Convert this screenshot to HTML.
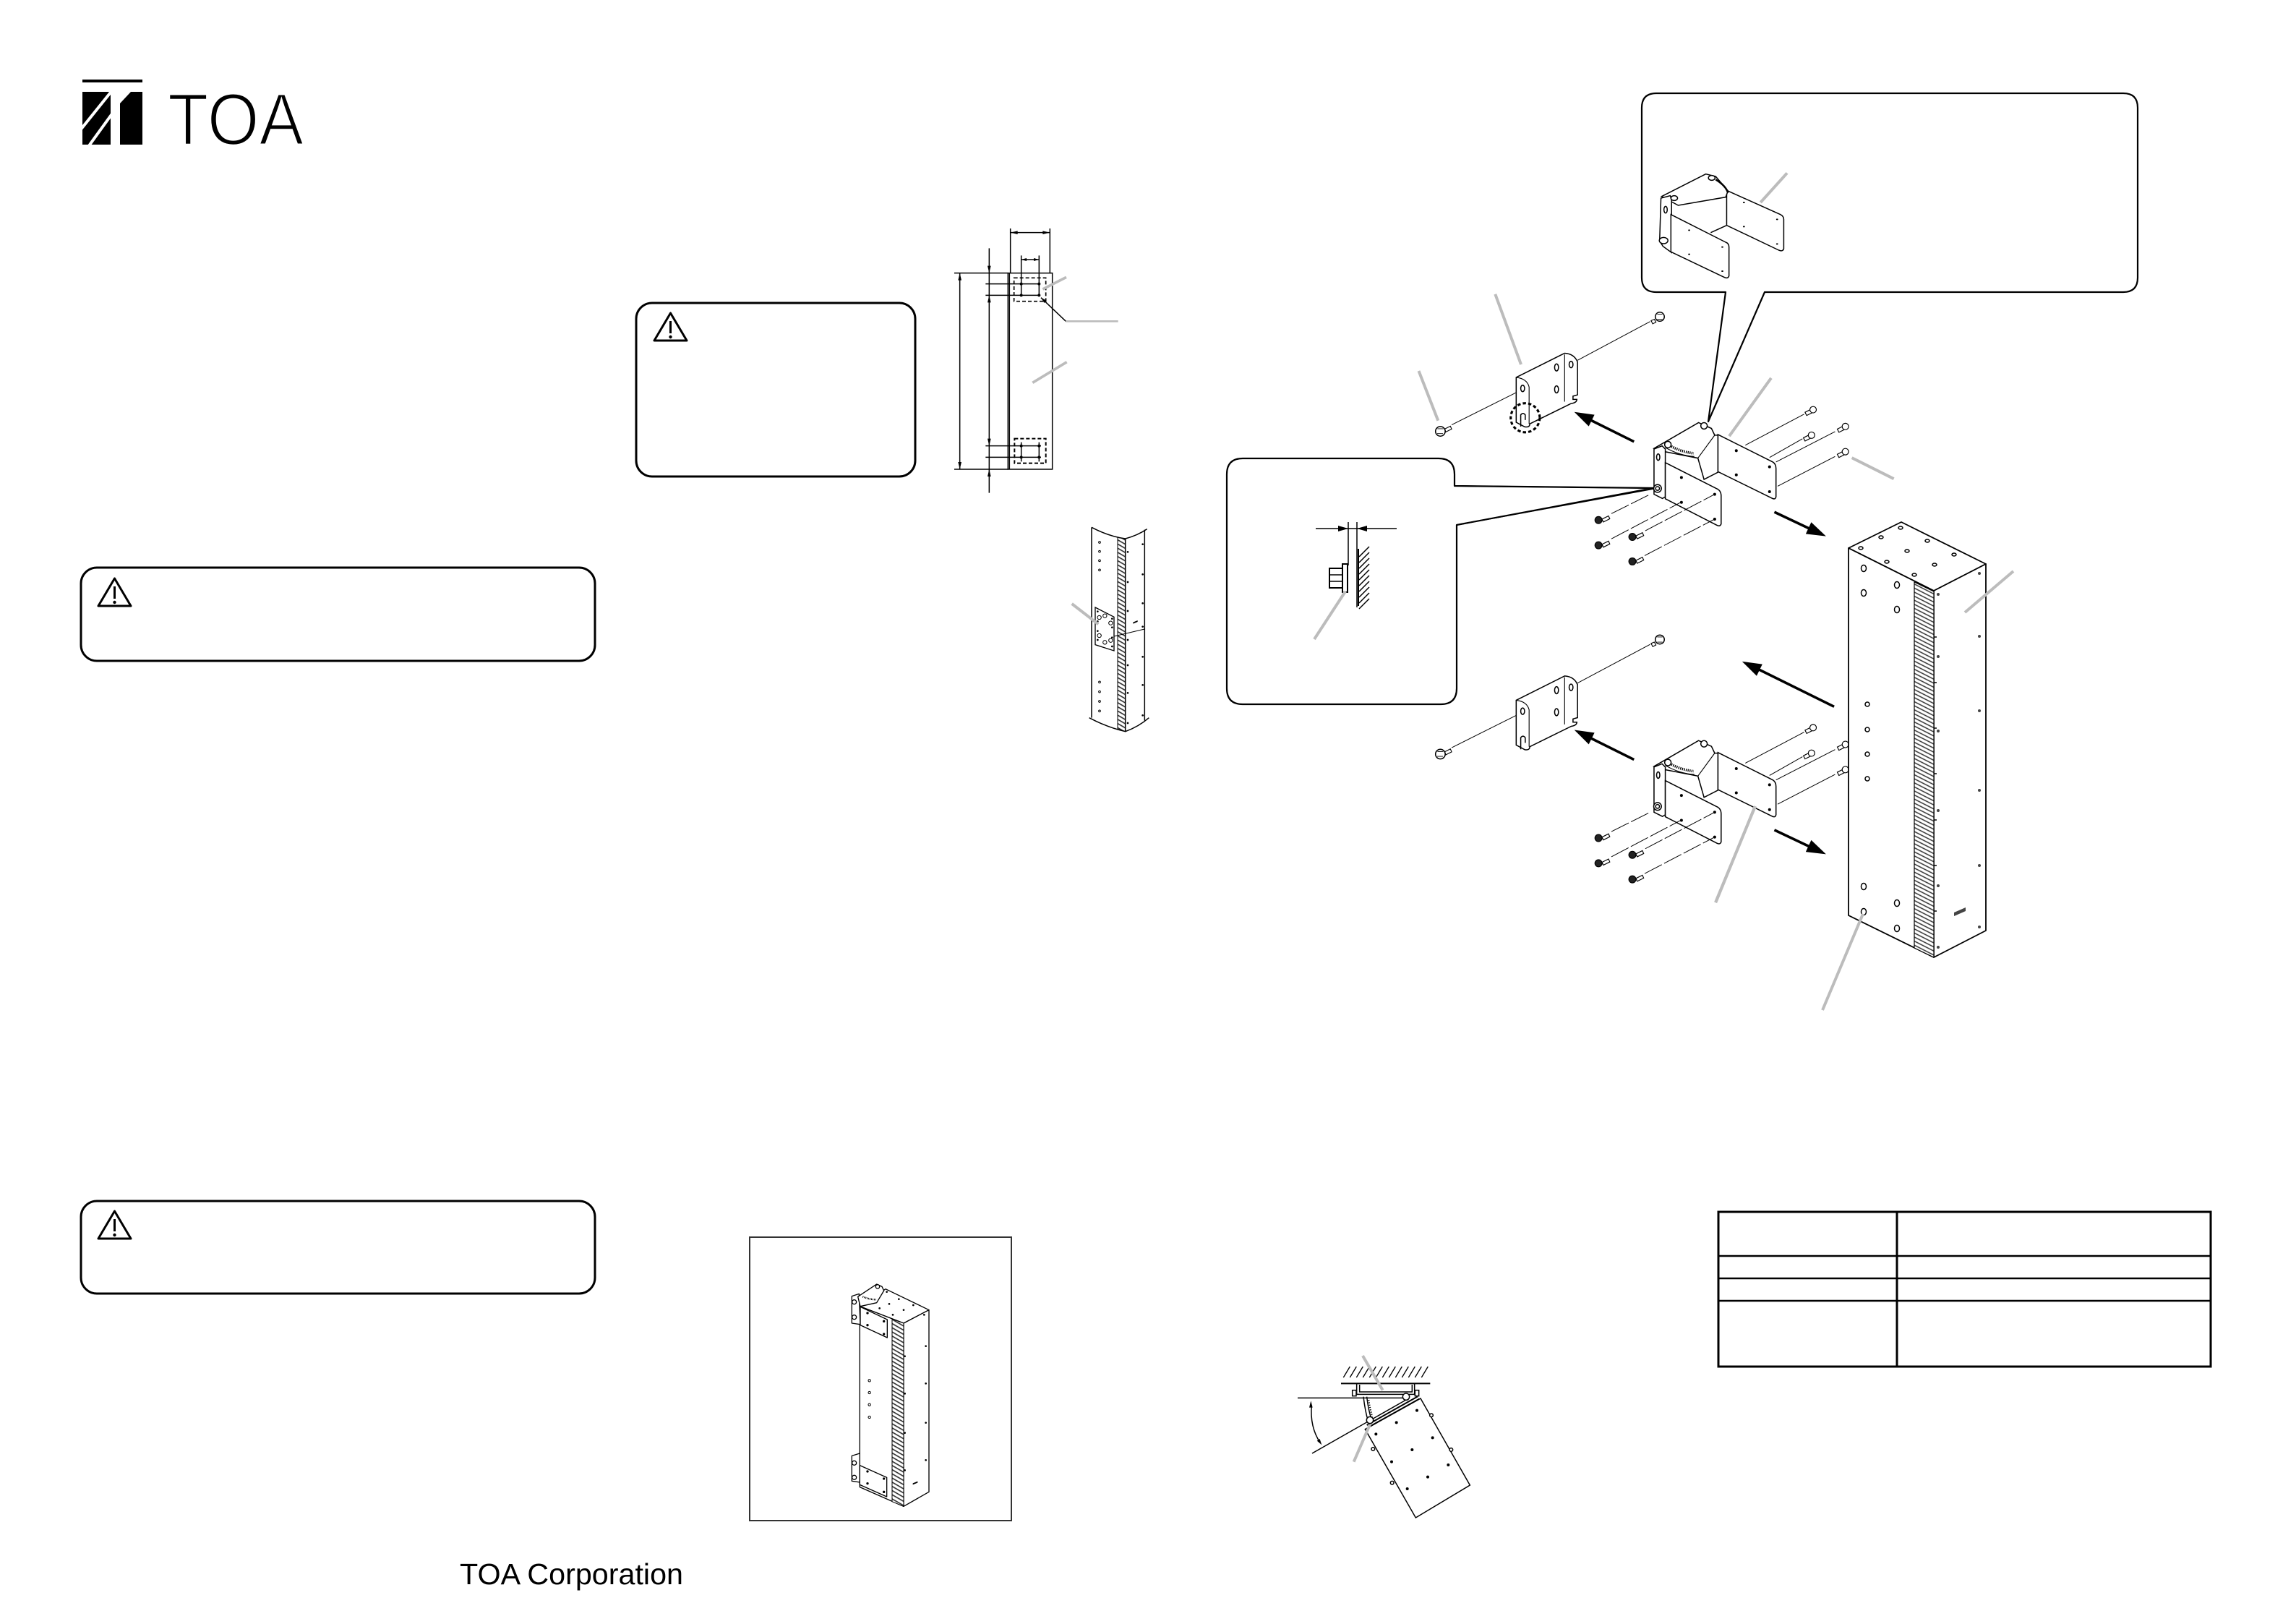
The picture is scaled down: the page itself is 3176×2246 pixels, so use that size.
<!DOCTYPE html>
<html><head><meta charset="utf-8">
<style>
html,body{margin:0;padding:0;background:#fff;}
svg{display:block;}
.ns *{vector-effect:non-scaling-stroke;}
</style></head>
<body>
<svg width="3176" height="2246" viewBox="0 0 3176 2246" xmlns="http://www.w3.org/2000/svg">
<defs>
<pattern id="hs" width="5" height="5" patternUnits="userSpaceOnUse" patternTransform="rotate(27)">
<rect width="5" height="5" fill="#fff"/><line x1="0" y1="2.5" x2="5" y2="2.5" stroke="#333" stroke-width="1.5"/></pattern>
<pattern id="hz" width="15" height="15" patternUnits="userSpaceOnUse" patternTransform="rotate(30)">
<rect width="15" height="15" fill="#fff"/><line x1="0" y1="7" x2="15" y2="7" stroke="#333" stroke-width="5"/></pattern>
</defs>
<rect width="3176" height="2246" fill="#fff"/>

<!-- LOGO -->
<rect x="114" y="110" width="83" height="4" fill="#000"/>
<rect x="114" y="127" width="39" height="73" fill="#000"/>
<line x1="156" y1="124" x2="111" y2="180" stroke="#fff" stroke-width="4"/>
<line x1="156" y1="156" x2="122" y2="203" stroke="#fff" stroke-width="4"/>
<polygon points="166,143 181,127 197,127 197,200 166,200" fill="#000"/>
<text x="232" y="200" font-family="Liberation Sans, sans-serif" font-size="101" textLength="188" lengthAdjust="spacingAndGlyphs" fill="#000" stroke="#fff" stroke-width="2.5">TOA</text>

<!-- Warning boxes -->
<rect x="112" y="785" width="711" height="129" rx="22" fill="none" stroke="#000" stroke-width="3"/>
<g stroke="#000" stroke-width="3" fill="none"><polygon points="158.5,800 136,838 181,838" stroke-linejoin="round"/><line x1="158.5" y1="811" x2="158.5" y2="828"/></g><circle cx="158.5" cy="833" r="2.2"/>

<rect x="880" y="419" width="386" height="240" rx="22" fill="none" stroke="#000" stroke-width="3"/>
<g stroke="#000" stroke-width="3" fill="none"><polygon points="927.5,433 905,471 950,471" stroke-linejoin="round"/><line x1="927.5" y1="444" x2="927.5" y2="461"/></g><circle cx="927.5" cy="466" r="2.2"/>

<rect x="112" y="1661" width="711" height="128" rx="22" fill="none" stroke="#000" stroke-width="3"/>
<g stroke="#000" stroke-width="3" fill="none"><polygon points="158.5,1675 136,1713 181,1713" stroke-linejoin="round"/><line x1="158.5" y1="1686" x2="158.5" y2="1703"/></g><circle cx="158.5" cy="1708" r="2.2"/>

<text x="636" y="2191" font-family="Liberation Sans, sans-serif" font-size="41" textLength="309" lengthAdjust="spacingAndGlyphs" fill="#000">TOA Corporation</text>

<!-- TABLE -->
<g stroke="#000" fill="none">
<rect x="2377" y="1676" width="681" height="214" stroke-width="3"/>
<line x1="2624" y1="1676" x2="2624" y2="1890" stroke-width="3"/>
<line x1="2377" y1="1737" x2="3058" y2="1737" stroke-width="2.5"/>
<line x1="2377" y1="1768" x2="3058" y2="1768" stroke-width="2.5"/>
<line x1="2377" y1="1799" x2="3058" y2="1799" stroke-width="2.5"/>
</g>

<!-- DIMENSION DRAWING -->
<g transform="translate(1280,290) scale(0.33333)" stroke="#000" fill="none" stroke-width="4.5">
<rect x="343" y="263" width="184" height="814" fill="#fff"/>
<line x1="349" y1="263" x2="349" y2="1077"/>
<path d="M353,78 V263 M517,78 V263 M353,95 H517 M398,190 V360 M472,190 V360 M398,207 H472 M120,263 H343 M120,1077 H343 M143,263 V1077 M265,160 V1175 M250,308 H472 M250,355 H472 M250,980 H480 M250,1027 H480 M398,965 V1045 M472,965 V1045"/>
<rect x="368" y="283" width="132" height="97" stroke-dasharray="15 9" stroke-width="5"/>
<rect x="370" y="950" width="130" height="102" stroke-dasharray="15 9" stroke-width="6"/>
<g fill="#000" stroke="none">
<circle cx="398" cy="308" r="6"/><circle cx="472" cy="308" r="6"/><circle cx="398" cy="355" r="6"/><circle cx="472" cy="355" r="6"/>
<circle cx="398" cy="980" r="6"/><circle cx="472" cy="980" r="6"/><circle cx="398" cy="1027" r="6"/><circle cx="472" cy="1027" r="6"/>
<polygon points="353,95 383,88 383,102"/><polygon points="517,95 487,88 487,102"/>
<polygon points="398,207 420,201 420,213"/><polygon points="472,207 450,201 450,213"/>
<polygon points="143,263 136,293 150,293"/><polygon points="143,1077 136,1047 150,1047"/>
<polygon points="265,263 258,233 272,233"/><polygon points="265,355 258,385 272,385"/>
<polygon points="265,980 258,950 272,950"/><polygon points="265,1077 258,1107 272,1107"/>
<polygon points="480,365 503,377 493,387"/>
</g>
<line x1="480" y1="365" x2="583" y2="463"/>
<g stroke="#bcbcbc" stroke-width="11"><line x1="583" y1="463" x2="800" y2="463" stroke-width="8"/><line x1="487" y1="330" x2="585" y2="280"/><line x1="445" y1="718" x2="587" y2="632"/></g>
</g>

<!-- COLUMN SPEAKER -->
<g transform="translate(1460,700) scale(0.33333)" stroke="#000" fill="none" stroke-width="4.5">
<polygon points="258,130 290,135 290,935 258,925" fill="url(#hz)" stroke-width="3"/>
<path d="M150,88 Q220,125 290,135 Q340,122 380,95"/>
<path d="M150,88 V878 M370,98 V890 M290,135 V935"/>
<path d="M140,878 Q215,918 290,935 Q345,915 388,878"/>
<g stroke-width="3"><circle cx="183" cy="150" r="4"/><circle cx="183" cy="188" r="4"/><circle cx="183" cy="226" r="4"/><circle cx="183" cy="265" r="4"/><circle cx="183" cy="730" r="4"/><circle cx="183" cy="770" r="4"/><circle cx="183" cy="810" r="4"/><circle cx="183" cy="850" r="4"/></g>
<g fill="#000" stroke="none"><circle cx="300" cy="190" r="4"/><circle cx="300" cy="315" r="4"/><circle cx="300" cy="435" r="4"/><circle cx="300" cy="555" r="4"/><circle cx="300" cy="660" r="4"/><circle cx="300" cy="775" r="4"/><circle cx="300" cy="900" r="4"/><circle cx="362" cy="158" r="4"/><circle cx="362" cy="283" r="4"/><circle cx="362" cy="403" r="4"/><circle cx="362" cy="500" r="4"/><circle cx="362" cy="625" r="4"/><circle cx="362" cy="742" r="4"/><circle cx="362" cy="868" r="4"/></g>
<polygon points="165,420 243,460 243,600 165,575" fill="#fff" stroke-width="4"/>
<g stroke-width="3"><circle cx="182" cy="462" r="8"/><circle cx="205" cy="455" r="8"/><circle cx="229" cy="485" r="8"/><circle cx="182" cy="537" r="8"/><circle cx="205" cy="565" r="8"/><circle cx="229" cy="557" r="8"/></g>
<g fill="#000" stroke="none"><circle cx="175" cy="437" r="4"/><circle cx="175" cy="478" r="4"/><circle cx="235" cy="467" r="4"/><circle cx="235" cy="503" r="4"/><circle cx="175" cy="518" r="4"/><circle cx="175" cy="555" r="4"/><circle cx="235" cy="545" r="4"/><circle cx="235" cy="582" r="4"/>
<polygon points="322,488 341,480 341,474 322,482"/></g>
<line x1="243" y1="540" x2="370" y2="510" stroke-width="3"/>
<line x1="68" y1="405" x2="178" y2="490" stroke="#bcbcbc" stroke-width="12"/>
</g>

<!-- TOP RIGHT CALLOUT -->
<path d="M2387,404 L2291,404 Q2271,404 2271,384 L2271,149 Q2271,129 2291,129 L2937,129 Q2957,129 2957,149 L2957,384 Q2957,404 2937,404 L2441,404 L2363,583 Z" fill="#fff" stroke="#000" stroke-width="2.2" stroke-linejoin="round"/>
<!-- LEFT CALLOUT -->
<path d="M2015,726 L2015,952 Q2015,974 1993,974 L1719,974 Q1697,974 1697,952 L1697,656 Q1697,634 1719,634 L1990,634 Q2012,634 2012,656 L2012,672 L2287,675 Z" fill="#fff" stroke="#000" stroke-width="2.2" stroke-linejoin="round"/>
<!-- left callout detail -->
<g stroke="#000" fill="none" stroke-width="1.5">
<line x1="1820" y1="731" x2="1932" y2="731"/>
<line x1="1865" y1="722" x2="1865" y2="782"/>
<line x1="1877" y1="722" x2="1877" y2="840"/>
<line x1="1879" y1="759" x2="1879" y2="838" stroke-width="2"/>
<path d="M1880,770 L1894,756 M1880,778 L1894,764 M1880,786 L1894,772 M1880,794 L1894,780 M1880,802 L1894,788 M1880,810 L1894,796 M1880,818 L1894,804 M1880,826 L1894,812 M1880,834 L1894,820 M1880,842 L1894,828"/>
<rect x="1839" y="786" width="18" height="27" fill="#fff" stroke-width="2"/>
<line x1="1839" y1="795" x2="1857" y2="795"/><line x1="1839" y1="804" x2="1857" y2="804"/>
<rect x="1857" y="780" width="7" height="39" fill="#fff" stroke-width="2"/>
</g>
<g fill="#000"><polygon points="1865,731 1851,727 1851,735"/><polygon points="1877,731 1891,727 1891,735"/></g>
<line x1="1861" y1="818" x2="1818" y2="884" stroke="#bcbcbc" stroke-width="4"/>

<!-- callout inner bracket -->
<g transform="translate(2270,120) scale(0.45914,0.33333)" class="ns" stroke="#000" fill="#fff" stroke-width="1.5">
<path d="M258,430 L420,530 Q430,537 430,550 L430,672 Q427,685 415,678 L258,575 Z"/>
<path d="M62,455 L195,362 L225,372 L262,432 L255,458 L112,492 Z"/>
<path d="M60,462 L88,452 L92,470 L92,688 L66,662 L56,640 Z"/>
<path d="M90,530 L255,645 Q265,650 265,665 L265,785 Q262,798 250,790 L90,685 Z"/>
<path d="M210,605 L258,575" fill="none"/>
<path d="M225,385 Q255,410 262,440" fill="none" stroke-width="2.5"/>
<circle cx="100" cy="462" r="10"/><circle cx="213" cy="378" r="10"/><circle cx="68" cy="638" r="13"/>
<ellipse cx="74" cy="510" rx="5" ry="14"/>
<g fill="#000" stroke="none"><circle cx="145" cy="595" r="3"/><circle cx="145" cy="695" r="3"/><circle cx="245" cy="665" r="3"/><circle cx="245" cy="765" r="3"/><circle cx="310" cy="480" r="3"/><circle cx="310" cy="580" r="3"/><circle cx="410" cy="550" r="3"/><circle cx="410" cy="652" r="3"/></g>
<line x1="360" y1="480" x2="440" y2="358" stroke="#bcbcbc" stroke-width="4"/>
</g>

<!-- MAIN EXPLODED VIEW (zoom coords) -->
<g transform="translate(1950,380) scale(0.44643)" stroke="#000" fill="none" stroke-width="3.4">
<g id="sp">
<line x1="130" y1="465" x2="350" y2="355" stroke-width="2.2"/>
<line x1="520" y1="265" x2="745" y2="145" stroke-width="2.2"/>
<path d="M330,318 L480,243 Q510,245 520,270 L520,372 L506,376 L506,386 L518,386 Q518,396 500,399 L372,462 Q372,474 356,471 L330,457 Z" fill="#fff"/>
<path d="M480,247 L480,393 M330,318 Q364,322 370,348 L370,462" stroke-width="2.5"/>
<ellipse cx="455" cy="287" rx="6" ry="11"/><ellipse cx="455" cy="355" rx="6" ry="11"/><ellipse cx="500" cy="278" rx="6" ry="10"/><ellipse cx="350" cy="352" rx="6" ry="10"/>
<path d="M344,470 L344,434 Q351,425 358,434 L358,450"/>
<path d="M108,478 L126,469 L130,478 L112,487 Z" fill="#fff" stroke-width="2.5"/>
<circle cx="95" cy="485" r="15" fill="#fff"/><path d="M86,477 L104,477 M85,492 L103,492" stroke-width="2"/>
<path d="M758,138 L748,142 L753,152 L763,147 Z" fill="#fff" stroke-width="2.5"/>
<circle cx="775" cy="130" r="14" fill="#fff"/><path d="M767,122 L783,122 M767,138 L783,138" stroke-width="2"/>
</g>
<use href="#sp" transform="translate(0,1000)"/>
<circle cx="358" cy="443" r="45" stroke-width="7" stroke-dasharray="10 7"/>

<g id="mb">
<path d="M1222,432 L1040,528 M1217,508 L1115,566 M1318,486 L1135,580 M1318,563 L1140,655" stroke-width="2.2"/>
<path d="M955,495 L1125,580 Q1135,586 1135,600 L1135,688 Q1133,698 1122,692 L955,610 Z" fill="#fff"/>
<path d="M757,538 L895,458 L935,476 L945,497 L955,497 L955,612 L912,634 L893,568 L790,548 Z" fill="#fff"/>
<path d="M945,497 L893,568" stroke-width="2.5"/>
<path d="M757,540 L782,530 L792,540 L792,688 L783,693 L757,680 Z" fill="#fff"/>
<path d="M792,582 L950,662 Q965,668 965,685 L965,772 Q962,781 952,776 L792,694 Z" fill="#fff"/>
<path d="M795,523 Q835,548 880,553" stroke-width="8" stroke-dasharray="3 3"/>
<path d="M792,535 Q835,560 882,563" stroke-width="2.5"/>
<circle cx="800" cy="526" r="10" fill="#fff"/><circle cx="912" cy="468" r="10" fill="#fff"/>
<circle cx="768" cy="662" r="12" fill="#fff"/><circle cx="768" cy="662" r="6"/>
<ellipse cx="770" cy="565" rx="5" ry="10"/>
<g fill="#000" stroke="none"><circle cx="842" cy="628" r="4.5"/><circle cx="842" cy="705" r="4.5"/><circle cx="945" cy="680" r="4.5"/><circle cx="945" cy="757" r="4.5"/><circle cx="1012" cy="545" r="4.5"/><circle cx="1012" cy="620" r="4.5"/><circle cx="1115" cy="595" r="4.5"/><circle cx="1115" cy="672" r="4.5"/></g>
<path d="M625,740 L745,680 M625,818 L840,705 M730,793 L945,680 M728,870 L945,757" stroke-width="2.2" stroke-dasharray="60 8"/>
<g fill="#fff" stroke-width="2.6">
<path d="M596,757 L616,747 L620,756 L600,766 Z"/><path d="M596,835 L616,825 L620,834 L600,844 Z"/><path d="M701,809 L721,799 L725,808 L705,818 Z"/><path d="M701,885 L721,875 L725,884 L705,894 Z"/>
<path d="M1225,426 L1243,417 L1248,427 L1230,436 Z"/><path d="M1220,505 L1238,496 L1243,506 L1225,515 Z"/><path d="M1325,478 L1343,469 L1348,479 L1330,488 Z"/><path d="M1325,556 L1343,547 L1348,557 L1330,566 Z"/>
<circle cx="1250" cy="418" r="10"/><circle cx="1245" cy="497" r="10"/><circle cx="1350" cy="470" r="10"/><circle cx="1350" cy="548" r="10"/>
</g>
<g fill="#222" stroke-width="2.6"><circle cx="585" cy="760" r="11"/><circle cx="585" cy="838" r="11"/><circle cx="690" cy="812" r="11"/><circle cx="690" cy="888" r="11"/></g>
<line x1="695" y1="517" x2="560" y2="450" stroke-width="8"/>
<polygon points="510,425 572.6,433.8 554.8,469.6" fill="#000" stroke="none"/>
<line x1="1130" y1="735" x2="1240" y2="787" stroke-width="8"/>
<polygon points="1290,810 1227.2,802.7 1244.2,766.5" fill="#000" stroke="none"/>
</g>
<use href="#mb" transform="translate(0,985)"/>
<line x1="1315" y1="1338" x2="1080" y2="1222" stroke-width="8"/>
<polygon points="1030,1198 1092.7,1206.5 1075.1,1242.5" fill="#000" stroke="none"/>
<g stroke="#bcbcbc" stroke-width="9">
<line x1="265" y1="60" x2="345" y2="278"/><line x1="28" y1="298" x2="88" y2="452"/>
<line x1="990" y1="500" x2="1120" y2="320"/><line x1="1370" y1="567" x2="1500" y2="632"/>
<line x1="1070" y1="1647" x2="948" y2="1945"/>
</g>
</g>
<!-- callout pointer lines to bracket -->
<line x1="2012" y1="672" x2="2287" y2="675" stroke="#000" stroke-width="1.8"/>

<!-- BIG SPEAKER -->
<g stroke="#000" stroke-width="1.8" fill="#fff" stroke-linejoin="round">
<polygon points="2557,758 2630,722 2747,780 2675,817"/>
<polygon points="2557,758 2675,817 2675,1324 2557,1266"/>
<polygon points="2675,817 2747,780 2747,1287 2675,1324"/>
<polygon points="2648,805 2675,818 2675,1324 2648,1311" fill="url(#hs)" stroke-width="1.2"/>
</g>
<g stroke="#000" stroke-width="1.5" fill="none">
<ellipse cx="2578" cy="786" rx="3.5" ry="4.5"/><ellipse cx="2578" cy="820" rx="3.5" ry="4.5"/><ellipse cx="2624" cy="809" rx="3.5" ry="4.5"/><ellipse cx="2624" cy="843" rx="3.5" ry="4.5"/>
<ellipse cx="2578" cy="1226" rx="3.5" ry="4.5"/><ellipse cx="2578" cy="1261" rx="3.5" ry="4.5"/><ellipse cx="2624" cy="1249" rx="3.5" ry="4.5"/><ellipse cx="2624" cy="1284" rx="3.5" ry="4.5"/>
<circle cx="2583" cy="974" r="3"/><circle cx="2583" cy="1009" r="3"/><circle cx="2583" cy="1043" r="3"/><circle cx="2583" cy="1077" r="3"/>
<ellipse cx="2574" cy="758" rx="3" ry="2"/><ellipse cx="2602" cy="743" rx="3" ry="2"/><ellipse cx="2629" cy="730" rx="3" ry="2"/><ellipse cx="2638" cy="762" rx="3" ry="2"/><ellipse cx="2666" cy="748" rx="3" ry="2"/><ellipse cx="2610" cy="777" rx="3" ry="2"/><ellipse cx="2676" cy="781" rx="3" ry="2"/><ellipse cx="2703" cy="767" rx="3" ry="2"/><ellipse cx="2648" cy="795" rx="3" ry="2"/>
<path d="M2675,881 h4 M2675,944 h4 M2675,1007 h4 M2675,1070 h4 M2675,1134 h4 M2675,1197 h4 M2675,1260 h4"/>
</g>
<g fill="#444"><circle cx="2681" cy="822" r="2"/><circle cx="2681" cy="908" r="2"/><circle cx="2681" cy="1011" r="2"/><circle cx="2681" cy="1121" r="2"/><circle cx="2681" cy="1225" r="2"/><circle cx="2681" cy="1310" r="2"/>
<circle cx="2738" cy="793" r="2"/><circle cx="2738" cy="880" r="2"/><circle cx="2738" cy="983" r="2"/><circle cx="2738" cy="1093" r="2"/><circle cx="2738" cy="1197" r="2"/><circle cx="2738" cy="1282" r="2"/>
<polygon points="2703,1267 2719,1260 2719,1255 2703,1262"/></g>
<g stroke="#bcbcbc" stroke-width="4"><line x1="2718" y1="847" x2="2785" y2="790"/><line x1="2577" y1="1264" x2="2521" y2="1397"/></g>
<line x1="2015" y1="726" x2="2287" y2="676" stroke="#000" stroke-width="1.8"/>
<line x1="2428" y1="1115" x2="2373" y2="1248" stroke="#bcbcbc" stroke-width="4"/>

<!-- BOTTOM SQUARE BOX -->
<rect x="1037" y="1711" width="362" height="392" fill="none" stroke="#333" stroke-width="2"/>
<g transform="translate(1030,1710) scale(0.33333)" stroke="#000" stroke-width="4" fill="#fff" stroke-linejoin="round">
<polygon points="478,290 585,218 765,305 660,360"/>
<polygon points="478,290 660,360 660,1120 478,1040"/>
<polygon points="660,360 765,305 765,1060 660,1120"/>
<polygon points="612,343 660,360 660,1120 612,1100" fill="url(#hz)" stroke-width="3"/>
<path d="M445,248 L475,238 L480,365 L445,360 Z"/>
<path d="M470,250 L548,198 L570,208 L578,225 L548,275 L480,290 Z"/>
<path d="M490,250 Q520,262 545,262" fill="none" stroke-width="7" stroke-dasharray="3 3"/>
<path d="M480,292 L592,345 L592,420 L480,368 Z"/>
<path d="M445,910 L478,900 L478,1020 L445,1015 Z"/>
<path d="M478,950 L590,1000 L590,1080 L478,1030 Z"/>
<circle cx="455" cy="272" r="9"/><circle cx="455" cy="335" r="9"/><circle cx="455" cy="940" r="9"/><circle cx="455" cy="1000" r="9"/><circle cx="552" cy="208" r="8"/>
<g fill="none" stroke-width="3"><circle cx="518" cy="598" r="5"/><circle cx="518" cy="648" r="5"/><circle cx="518" cy="698" r="5"/><circle cx="518" cy="750" r="5"/></g>
<g fill="#000" stroke="none">
<circle cx="510" cy="318" r="5"/><circle cx="578" cy="352" r="5"/><circle cx="510" cy="368" r="5"/><circle cx="578" cy="405" r="5"/>
<circle cx="510" cy="975" r="5"/><circle cx="578" cy="1005" r="5"/><circle cx="510" cy="1025" r="5"/><circle cx="578" cy="1060" r="5"/>
<circle cx="752" cy="455" r="4"/><circle cx="752" cy="610" r="4"/><circle cx="752" cy="773" r="4"/><circle cx="752" cy="928" r="4"/>
<circle cx="665" cy="497" r="4"/><circle cx="665" cy="652" r="4"/><circle cx="665" cy="815" r="4"/><circle cx="665" cy="970" r="4"/>
<circle cx="590" cy="230" r="4"/><circle cx="640" cy="260" r="4"/><circle cx="700" cy="285" r="4"/><circle cx="600" cy="280" r="4"/><circle cx="660" cy="305" r="4"/><circle cx="560" cy="298" r="4"/><circle cx="615" cy="325" r="4"/><circle cx="745" cy="325" r="4"/>
<polygon points="698,1030 718,1022 718,1016 698,1024"/></g>
</g>

<!-- ANGLE DIAGRAM -->
<g transform="translate(1760,1860) scale(0.33333)" stroke="#000" fill="none" stroke-width="4.5">
<path d="M295,135 L322,90 M322,135 L349,90 M349,135 L376,90 M376,135 L403,90 M403,135 L430,90 M430,135 L457,90 M457,135 L484,90 M484,135 L511,90 M511,135 L538,90 M538,135 L565,90 M565,135 L592,90 M592,135 L619,90 M619,135 L646,90" stroke-width="4"/>
<line x1="285" y1="160" x2="655" y2="160" stroke-width="6"/>
<path d="M350,162 L350,205 L590,205 L590,162 M362,165 L362,195 L580,195 L580,165"/>
<rect x="332" y="188" width="16" height="24" fill="#fff"/><rect x="592" y="188" width="16" height="24" fill="#fff"/>
<line x1="105" y1="220" x2="555" y2="220"/>
<line x1="165" y1="450" x2="555" y2="228"/>
<path d="M163,250 Q155,340 198,405"/>
<polygon points="160,232 153,260 167,260" fill="#000" stroke="none"/>
<polygon points="205,415 196.8,390.1 185.2,397.9" fill="#000" stroke="none"/>
<path d="M378,215 Q385,275 398,318 M392,215 Q398,270 412,310"/>
<path d="M400,228 Q405,265 415,298" stroke-dasharray="4 6" stroke-width="6"/>
<polygon points="385,350 615,222 820,582 595,717" fill="#fff"/>
<path d="M392,333 L603,214 M398,342 L610,224" stroke-width="6"/>
<circle cx="555" cy="215" r="14" fill="#fff"/><circle cx="405" cy="312" r="14" fill="#fff"/>
<g fill="#000" stroke="none"><circle cx="600" cy="272" r="6"/><circle cx="515" cy="322" r="6"/><circle cx="430" cy="370" r="6"/><circle cx="665" cy="385" r="6"/><circle cx="580" cy="435" r="6"/><circle cx="495" cy="485" r="6"/><circle cx="730" cy="498" r="6"/><circle cx="645" cy="548" r="6"/><circle cx="560" cy="597" r="6"/></g>
<g fill="#fff"><circle cx="660" cy="292" r="7"/><circle cx="742" cy="435" r="7"/><circle cx="418" cy="432" r="7"/><circle cx="497" cy="572" r="7"/></g>
<g stroke="#bcbcbc" stroke-width="12"><line x1="375" y1="45" x2="458" y2="188"/><line x1="405" y1="330" x2="338" y2="485"/></g>
</g>

</svg>
</body></html>
